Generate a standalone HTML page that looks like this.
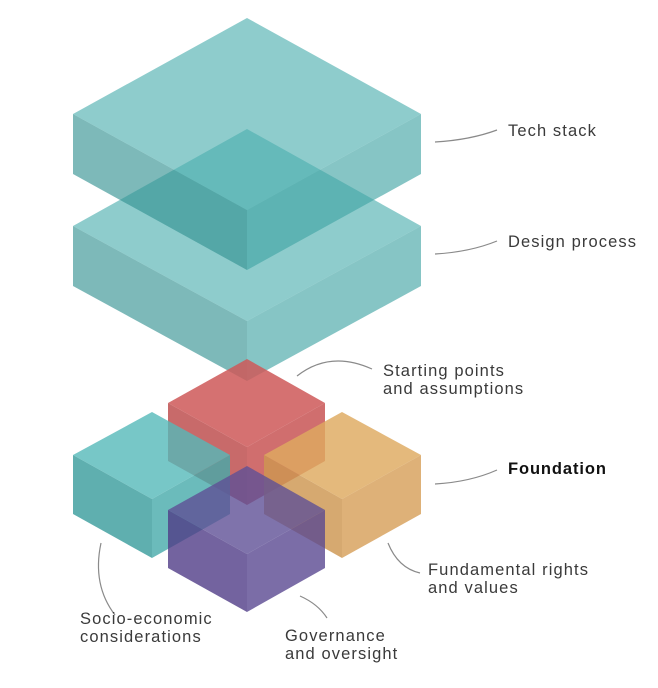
<!DOCTYPE html>
<html><head><style>
html,body{margin:0;padding:0;background:#fff;}
svg{display:block}
text{font-family:"Liberation Sans",sans-serif;font-size:16.5px;fill:#3a3a3a;letter-spacing:1.1px}
</style></head><body>
<svg width="658" height="688" viewBox="0 0 658 688" xmlns="http://www.w3.org/2000/svg">
<g fill-opacity="0.64">
 <polygon points="73,226 247,321 247,381 73,286" fill="rgb(52,145,145)"/>
 <polygon points="247,321 421,226 421,286 247,381" fill="rgb(66,165,165)"/>
 <polygon points="247,129 421,226 247,321 73,226" fill="rgb(78,175,175)"/>
</g>
<g fill-opacity="0.64">
 <polygon points="73,114 247,210 247,270 73,174" fill="rgb(52,145,145)"/>
 <polygon points="247,210 421,114 421,174 247,270" fill="rgb(66,165,165)"/>
 <polygon points="247,18 421,114 247,210 73,114" fill="rgb(78,175,175)"/>
</g>
<g fill-opacity="0.85">
 <polygon points="168,403 247,447 247,505 168,461" fill="rgb(190,80,80)"/>
 <polygon points="247,447 325,403 325,461 247,505" fill="rgb(200,85,85)"/>
 <polygon points="247,359 325,403 247,447 168,403" fill="rgb(206,88,88)"/>
</g>
<g fill-opacity="0.8">
 <polygon points="73,455 152,499 152,558 73,514" fill="rgb(55,155,155)"/>
 <polygon points="152,499 230,455 230,514 152,558" fill="rgb(70,170,170)"/>
 <polygon points="152,412 230,455 152,499 73,455" fill="rgb(85,185,185)"/>
</g>
<g fill-opacity="0.82">
 <polygon points="264,455 342,499 342,558 264,514" fill="rgb(205,150,80)"/>
 <polygon points="342,499 421,455 421,514 342,558" fill="rgb(215,160,90)"/>
 <polygon points="342,412 421,455 342,499 264,455" fill="rgb(222,170,95)"/>
</g>
<g fill-opacity="0.8">
 <polygon points="168,510 247,554 247,612 168,568" fill="rgb(80,60,135)"/>
 <polygon points="247,554 325,510 325,568 247,612" fill="rgb(90,72,145)"/>
 <polygon points="247,466 325,510 247,554 168,510" fill="rgb(95,80,150)"/>
</g>
<g fill="none" stroke="#8a8a8a" stroke-width="1.2">
 <path d="M435,142 Q470,140 497,130"/>
 <path d="M435,254 Q470,252 497,241"/>
 <path d="M297,376 Q330,350 372,369"/>
 <path d="M435,484 Q470,482 497,470"/>
 <path d="M388,543 Q398,568 420,573"/>
 <path d="M101,543 Q92,585 115,615"/>
 <path d="M300,596 Q318,604 327,618"/>
</g>
<text x="508" y="136">Tech stack</text>
<text x="508" y="247">Design process</text>
<text x="383" y="376">Starting points</text>
<text x="383" y="394">and assumptions</text>
<text x="508" y="474" style="font-weight:bold;fill:#111;letter-spacing:0.9px">Foundation</text>
<text x="428" y="575">Fundamental rights</text>
<text x="428" y="593">and values</text>
<text x="80" y="624">Socio-economic</text>
<text x="80" y="642">considerations</text>
<text x="285" y="641">Governance</text>
<text x="285" y="659">and oversight</text>
</svg>
</body></html>
